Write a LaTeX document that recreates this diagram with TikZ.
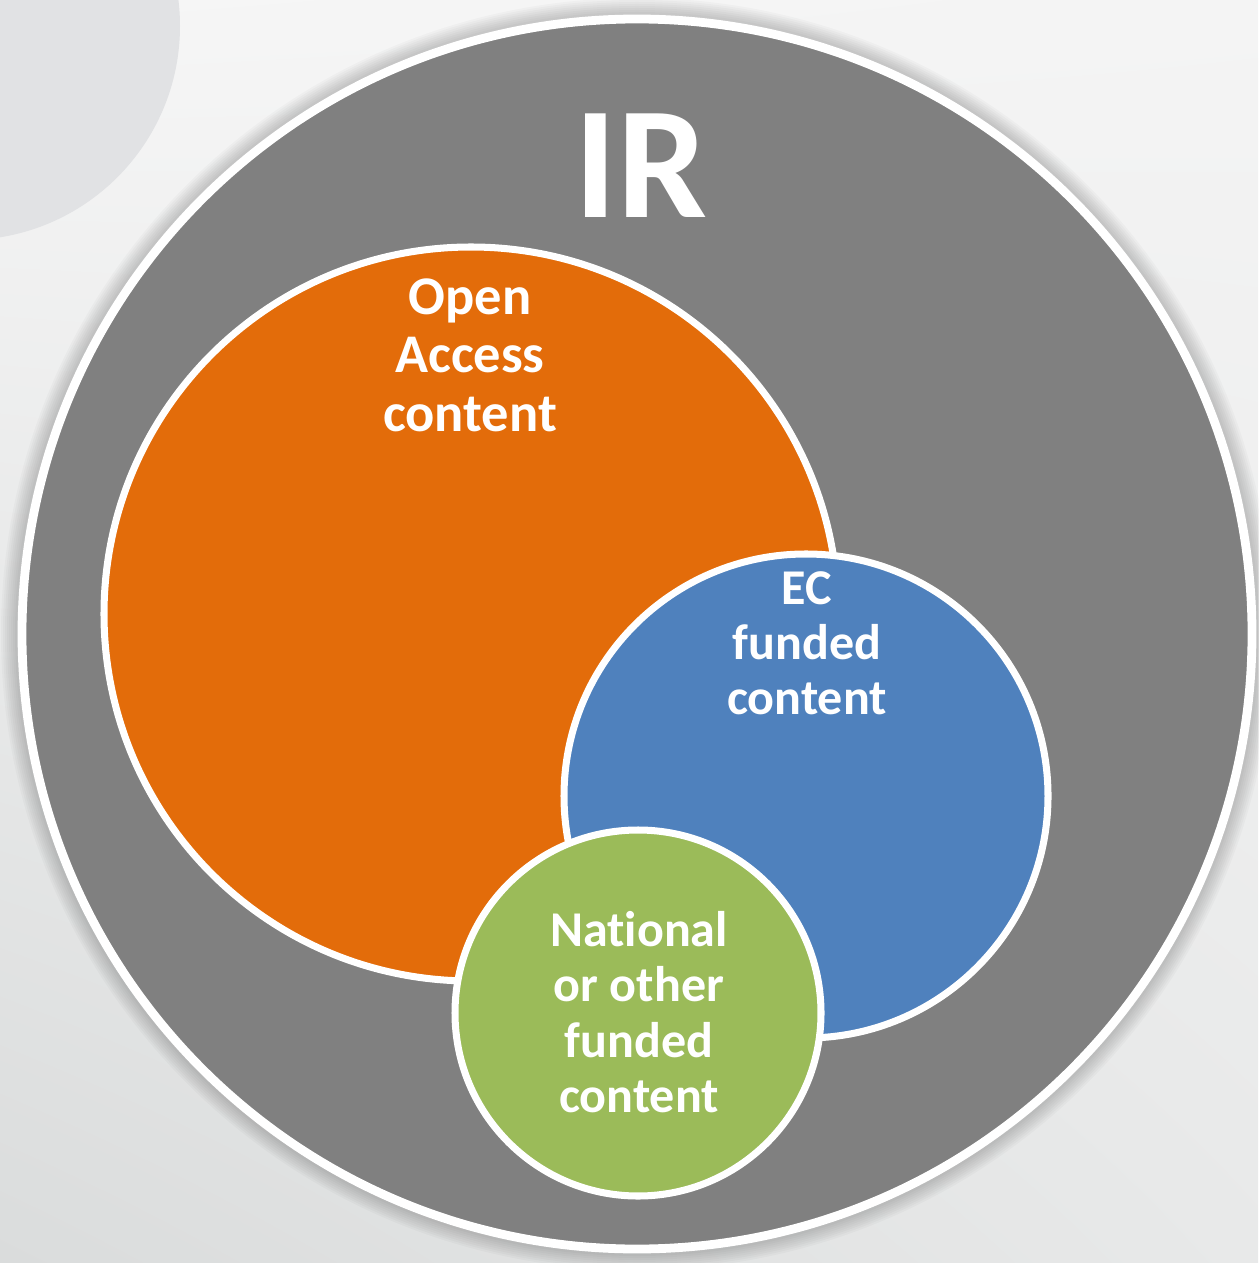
\documentclass[tikz,border=0pt]{standalone}
\usepackage{fontspec}
\setmainfont{Carlito}[Ligatures=NoCommon]
\usetikzlibrary{shadings}
\definecolor{irgrey}{RGB}{128,128,128}
\definecolor{oaorange}{RGB}{227,108,10}
\definecolor{ecblue}{RGB}{79,129,189}
\definecolor{natgreen}{RGB}{155,187,89}
\definecolor{bgdisc}{RGB}{225,226,228}
\definecolor{bgul}{RGB}{246,246,246}
\definecolor{bgur}{RGB}{244,244,244}
\definecolor{bgll}{RGB}{218,220,220}
\definecolor{bglr}{RGB}{232,233,233}
\begin{document}
\begin{tikzpicture}[x=0.02cm,y=-0.02cm,
  ring/.style={draw=white,line width=4pt},
  label/.style={text=white,font=\bfseries\fontsize{28.5}{31.5}\selectfont,align=center,inner sep=0pt,anchor=north}]
\useasboundingbox (0,0) rectangle (1258,1263);
\shade [upper left=bgul,upper right=bgur,lower left=bgll,lower right=bglr]
  (0,0) rectangle (1258,1263);
\fill [bgdisc] (-34,26) circle (214);

\foreach \k in {1,...,8}
  \fill [black,opacity=0.025] (637,634) circle (620+2*\k);
\draw [ring,line width=5pt,fill=irgrey] (637,634) circle (615);
\draw [ring,fill=oaorange] (471,614) circle (367);
\draw [ring,fill=ecblue] (806,796) circle (242);
\draw [ring,fill=natgreen] (638,1013) circle (183);

\node [text=white,font=\bfseries\fontsize{91}{91}\selectfont,inner sep=0pt,anchor=north] (ir) at (641,113) {IR};
\node [label,font=\bfseries\fontsize{31}{33.5}\selectfont] (oa) at (470,278) {Open\\Access\\content};
\node [label] (ec) at (807,571) {EC\\funded\\content};
\node [label] (nat) at (639,911) {National\\or other\\funded\\content};
\end{tikzpicture}
\end{document}
